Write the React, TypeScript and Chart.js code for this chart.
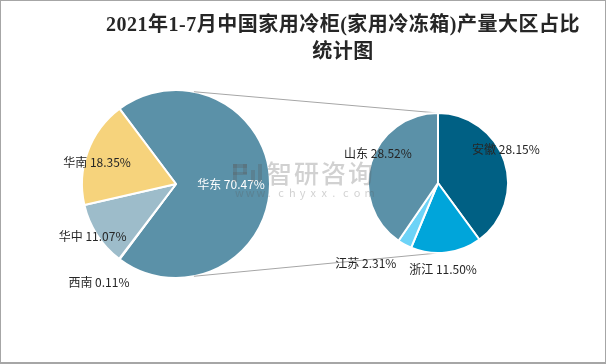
import React, { useEffect, useRef } from "react";
import { Chart, registerables } from "chart.js";
Chart.register(...registerables);

const titleLines = ["2021年1-7月中国家用冷柜(家用冷冻箱)产量大区占比", "统计图"];

const regionLabels = ["华东", "西南", "华中", "华南"];
const regionValues = [70.47, 0.11, 11.07, 18.35];
const regionColors = ["#5B91A8", "#7F9FB0", "#9DBCCA", "#F6D37C"];

const provinceLabels = ["安徽", "浙江", "江苏", "山东"];
const provinceValues = [28.15, 11.5, 2.31, 28.52];
const provinceColors = ["#006084", "#00A5DA", "#6DD3F7", "#5B91A8"];

// label placement (radius factor, angle tweak in degrees, colour)
const regionLabelLayout = [
  { f: 0.585, da: 0, color: "#FFFFFF" },
  { f: 1.33, da: 1, color: "#262626" },
  { f: 1.05, da: 0.5, color: "#262626" },
  { f: 0.87, da: -5, color: "#262626" },
];
const provinceLabelLayout = [
  { f: 1.086, da: -8.5, color: "#262626" },
  { f: 1.24, da: 3.5, color: "#262626" },
  { f: 1.54, da: 13.6, color: "#262626" },
  { f: 0.96, da: 9.4, color: "#262626" },
];

const FONT = '"Microsoft YaHei", "Noto Sans CJK SC", sans-serif';

function labelPlugin(labels: string[], values: number[], layout: any[]) {
  return {
    id: "sliceLabels",
    afterDatasetsDraw(chart: any) {
      const ctx = chart.ctx;
      const meta = chart.getDatasetMeta(0);
      ctx.save();
      ctx.font = "12px " + FONT;
      ctx.textAlign = "center";
      ctx.textBaseline = "middle";
      meta.data.forEach((arc: any, i: number) => {
        const lay = layout[i];
        const mid = (arc.startAngle + arc.endAngle) / 2 + (lay.da * Math.PI) / 180;
        const r = arc.outerRadius * lay.f;
        const x = arc.x + Math.cos(mid) * r;
        const y = arc.y + Math.sin(mid) * r;
        ctx.fillStyle = lay.color;
        ctx.fillText(labels[i] + " " + values[i].toFixed(2) + "%", x, y);
      });
      ctx.restore();
    },
  };
}

export default function App() {
  const leftRef = useRef<HTMLCanvasElement | null>(null);
  const rightRef = useRef<HTMLCanvasElement | null>(null);

  useEffect(() => {
    document.body.style.margin = "0";
    const total = regionValues.reduce((a, b) => a + b, 0);
    const firstShare = regionValues[0] / total;
    const left = new Chart(leftRef.current as HTMLCanvasElement, {
      type: "pie",
      data: {
        labels: regionLabels,
        datasets: [
          {
            data: regionValues,
            backgroundColor: regionColors,
            borderColor: "#FFFFFF",
            borderWidth: 2,
          },
        ],
      },
      options: {
        responsive: false,
        maintainAspectRatio: false,
        animation: false,
        rotation: 90 - firstShare * 180,
        layout: { padding: { left: 81, right: 335, top: 89, bottom: 85 } },
        plugins: { legend: { display: false }, tooltip: { enabled: false }, title: { display: false } },
        events: [],
      },
      plugins: [labelPlugin(regionLabels, regionValues, regionLabelLayout)],
    });

    const connectorPlugin = {
      id: "connectors",
      beforeDatasetsDraw(chart: any) {
        const la: any = left.getDatasetMeta(0).data[0];
        const ra: any = chart.getDatasetMeta(0).data[0];
        if (!la || !ra) return;
        const ctx = chart.ctx;
        const a = (79 * Math.PI) / 180;
        const lr = la.outerRadius;
        ctx.save();
        ctx.strokeStyle = "#A6A6A6";
        ctx.lineWidth = 1;
        ctx.beginPath();
        ctx.moveTo(la.x + Math.cos(-a) * lr, la.y + Math.sin(-a) * lr);
        ctx.lineTo(ra.x, ra.y - ra.outerRadius);
        ctx.moveTo(la.x + Math.cos(a) * lr, la.y + Math.sin(a) * lr);
        ctx.lineTo(ra.x, ra.y + ra.outerRadius);
        ctx.stroke();
        ctx.restore();
      },
    };

    const watermarkPlugin = {
      id: "watermark",
      afterDraw(chart: any) {
        const ctx = chart.ctx;
        const cx = chart.width / 2;
        const cy = chart.height / 2;
        ctx.save();
        ctx.fillStyle = "rgba(90,90,90,0.28)";
        // logo
        ctx.fillRect(cx - 70, cy - 18, 4, 18);
        ctx.fillRect(cx - 70, cy - 18, 14, 4);
        ctx.fillRect(cx - 60, cy - 18, 4, 10);
        ctx.fillRect(cx - 70, cy - 10, 14, 3);
        ctx.fillRect(cx - 52, cy - 12, 4, 12);
        ctx.fillRect(cx - 45, cy - 18, 4, 18);
        ctx.font = "500 25px " + FONT;
        ctx.textAlign = "left";
        ctx.textBaseline = "middle";
        const word = "智研咨询";
        let x = cx - 36;
        for (const ch of word) {
          ctx.fillText(ch, x, cy - 9);
          x += 27;
        }
        ctx.font = "11px " + FONT;
        const url = "www.chyxx.com";
        x = cx - 68;
        for (const ch of url) {
          ctx.fillText(ch, x, cy + 11);
          x += 10.8;
        }
        ctx.restore();
      },
    };

    const right = new Chart(rightRef.current as HTMLCanvasElement, {
      type: "pie",
      data: {
        labels: provinceLabels,
        datasets: [
          {
            data: provinceValues,
            backgroundColor: provinceColors,
            borderColor: "#FFFFFF",
            borderWidth: 2,
          },
        ],
      },
      options: {
        responsive: false,
        maintainAspectRatio: false,
        animation: false,
        rotation: 0,
        layout: { padding: { left: 367, right: 97, top: 112, bottom: 110 } },
        plugins: { legend: { display: false }, tooltip: { enabled: false }, title: { display: false } },
        events: [],
      },
      plugins: [connectorPlugin, labelPlugin(provinceLabels, provinceValues, provinceLabelLayout), watermarkPlugin],
    });

    return () => {
      right.destroy();
      left.destroy();
    };
  }, []);

  return (
    <div style={{ position: "relative", width: 606, height: 364, background: "#FFFFFF", overflow: "hidden" }}>
      <canvas ref={leftRef} width={606} height={364} style={{ position: "absolute", left: 0, top: 0 }} />
      <canvas ref={rightRef} width={606} height={364} style={{ position: "absolute", left: 0, top: 0 }} />
      <div
        style={{
          position: "absolute",
          left: 343,
          top: 11,
          transform: "translateX(-50%)",
          whiteSpace: "nowrap",
          textAlign: "center",
          fontFamily: '"Liberation Serif", "Noto Sans CJK SC", serif',
          fontWeight: "bold",
          fontSize: 20,
          letterSpacing: "0.5px",
          lineHeight: "27px",
          color: "#262626",
        }}
      >
        {titleLines.map((t, i) => (
          <div key={i}>{t}</div>
        ))}
      </div>
      <div
        style={{
          position: "absolute",
          left: 0,
          top: 0,
          width: 606,
          height: 364,
          boxSizing: "border-box",
          border: "1px solid #A6A6A6",
          borderBottomWidth: 2,
          pointerEvents: "none",
        }}
      />
    </div>
  );
}
